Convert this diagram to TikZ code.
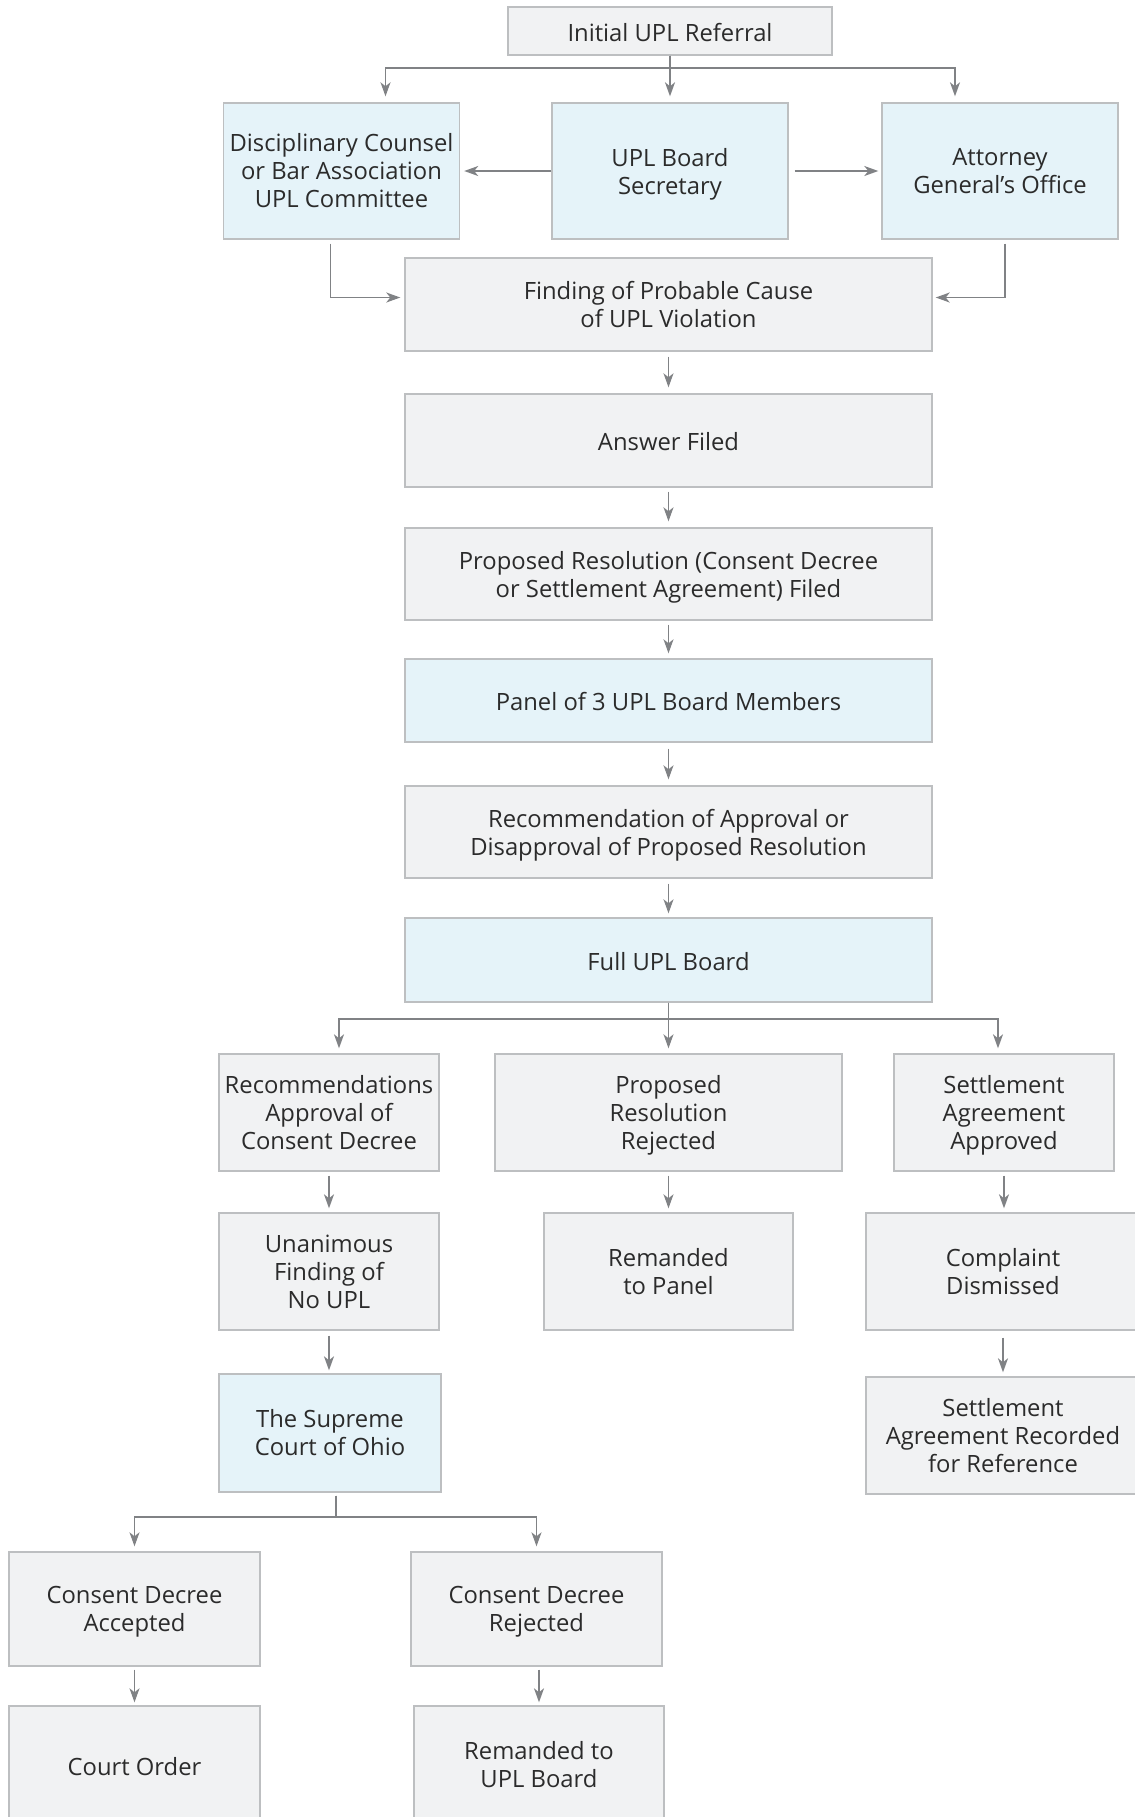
\documentclass[tikz,border=0pt]{standalone}
\usepackage{fontspec}
\setmainfont{Open Sans}
\usetikzlibrary{arrows.meta,calc}
\definecolor{gfill}{HTML}{F1F2F3}
\definecolor{bfill}{HTML}{E5F3F9}
\definecolor{bordc}{HTML}{BDBFC1}
\definecolor{linec}{HTML}{808285}
\definecolor{txtc}{HTML}{2B2B2B}
\newcommand\nodesc[1]{\raisebox{0pt}[\height][0pt]{#1}}
\tikzset{
  box/.style={draw=bordc, line width=0.7pt, rectangle, align=center, inner sep=0pt,
    text=txtc, font=\fontsize{11.9}{14}\selectfont,
    execute at begin node={\rule{0pt}{10.2pt}}},
  gbox/.style={box, fill=gfill},
  bbox/.style={box, fill=bfill},
  conn/.style={draw=linec, line width=0.8pt, -{Stealth[length=7pt,width=5pt,inset=2pt]}},
}
\begin{document}
\begin{tikzpicture}[x={(0.5pt,0pt)},y={(0pt,-0.5pt)}]
\useasboundingbox (0,0) rectangle (1135,1817);
\clip (0,0) rectangle (1135,1817);

% top
\node[gbox, minimum width=162pt, minimum height=24pt] (init) at (670,31) {Initial UPL Referral};
\node[bbox, minimum width=118pt, minimum height=68pt] (disc) at (341.5,171) {Disciplinary Counsel\\or Bar Association\\UPL Committee};
\node[bbox, minimum width=118pt, minimum height=68pt] (sec) at (670,171) {UPL Board\\\nodesc{Secretary}};
\node[bbox, minimum width=118pt, minimum height=68pt] (att) at (1000,171) {Attorney\\General’s Office};

% main column
\node[gbox, minimum width=263.5pt, minimum height=46.5pt] (find) at (668.5,304.5) {Finding of Probable Cause\\of UPL Violation};
\node[gbox, minimum width=263.5pt, minimum height=46.5pt] (ans) at (668.5,440.5) {Answer Filed};
\node[gbox, minimum width=263.5pt, minimum height=46pt] (prop) at (668.5,574) {Proposed Resolution (Consent Decree\\\nodesc{or Settlement Agreement) Filed}};
\node[bbox, minimum width=263.5pt, minimum height=41.5pt] (panel) at (668.5,700.5) {Panel of 3 UPL Board Members};
\node[gbox, minimum width=263.5pt, minimum height=46pt] (rec) at (668.5,832) {Recommendation of Approval or\\\nodesc{Disapproval of Proposed Resolution}};
\node[bbox, minimum width=263.5pt, minimum height=42pt] (full) at (668.5,960) {Full UPL Board};

% three branches
\node[gbox, minimum width=110pt, minimum height=58.5pt] (recs) at (329,1112.5) {Recommendations\\Approval of\\Consent Decree};
\node[gbox, minimum width=173.5pt, minimum height=58.5pt] (prr) at (668.5,1112.5) {Proposed\\Resolution\\\nodesc{Rejected}};
\node[gbox, minimum width=110pt, minimum height=58.5pt] (saa) at (1004,1112.5) {Settlement\\Agreement\\\nodesc{Approved}};

\node[gbox, minimum width=110pt, minimum height=58.5pt] (unan) at (329,1271.5) {Unanimous\\Finding of\\No UPL};
\node[gbox, minimum width=124.5pt, minimum height=58.5pt] (rtp) at (668.5,1271.5) {Remanded\\to Panel};
\node[gbox, minimum width=137pt, minimum height=58.5pt] (comp) at (1003,1271.5) {Complaint\\Dismissed};

\node[bbox, minimum width=111pt, minimum height=59pt] (sup) at (330,1433) {The Supreme\\Court of Ohio};
\node[gbox, minimum width=137pt, minimum height=58.5pt] (sar) at (1003,1435.5) {Settlement\\Agreement Recorded\\for Reference};

% bottom
\node[gbox, minimum width=125.5pt, minimum height=57pt] (cda) at (134.5,1609) {Consent Decree\\\nodesc{Accepted}};
\node[gbox, minimum width=125.5pt, minimum height=57pt] (cdr) at (536.5,1609) {Consent Decree\\\nodesc{Rejected}};
\node[gbox, minimum width=125.5pt, minimum height=59pt] (co) at (134.5,1765) {Court Order};
\node[gbox, minimum width=125pt, minimum height=59pt] (rub) at (539,1765) {Remanded to\\UPL Board};

% connectors top
\draw[conn, shorten >=3pt] (init.south) -- (sec.north);
\draw[conn, shorten >=3pt] (init.south) -- ++(0,12) -| ([xshift=22pt]disc.north);
\draw[conn, shorten >=3pt] (init.south) -- ++(0,12) -| ([xshift=-22.5pt]att.north);
\draw[conn, shorten >=2pt] (sec.west) -- (disc.east);
\draw[conn, shorten <=3pt, shorten >=1.5pt] (sec.east) -- (att.west);
\draw[conn, shorten <=2pt, shorten >=2pt] ([xshift=-5.5pt]disc.south) |- ([yshift=3.5pt]find.west);
\draw[conn, shorten <=2pt, shorten >=1.5pt] ([xshift=2.5pt]att.south) |- ([yshift=3.5pt]find.east);

% main chain
\draw[conn, shorten <=2.5pt, shorten >=3pt] (find) -- (ans);
\draw[conn, shorten <=2pt, shorten >=3pt] (ans) -- (prop);
\draw[conn, shorten <=2pt, shorten >=2.5pt] (prop) -- (panel);
\draw[conn, shorten <=3pt, shorten >=3pt] (panel) -- (rec);
\draw[conn, shorten <=2.5pt, shorten >=2pt] (rec) -- (full);

% branches
\draw[conn, shorten >=2.5pt] (full.south) -- (prr.north);
\draw[conn, shorten >=2.5pt] (full.south) -- ++(0,16) -| ([xshift=5pt]recs.north);
\draw[conn, shorten >=2.5pt] (full.south) -- ++(0,16) -| ([xshift=-3pt]saa.north);

\draw[conn, shorten <=2pt, shorten >=2pt] (recs) -- (unan);
\draw[conn, shorten <=2pt, shorten >=2pt] (prr) -- (rtp);
\draw[conn, shorten <=2pt, shorten >=2pt] (saa.south) -- (saa.south |- comp.north);
\draw[conn, shorten <=2.5pt, shorten >=1.5pt] (unan.south) -- (unan.south |- sup.north);
\draw[conn, shorten <=3.5pt, shorten >=2pt] (comp) -- (sar);

% supreme court split
\draw[conn, shorten <=1.5pt, shorten >=2.5pt] ([xshift=3pt]sup.south) -- ++(0,24) -| (cda.north);
\draw[conn, shorten <=1.5pt, shorten >=2.5pt] ([xshift=3pt]sup.south) -- ++(0,24) -| (cdr.north);

\draw[conn, shorten <=1.5pt, shorten >=1.5pt] (cda) -- (co);
\draw[conn, shorten <=1.5pt, shorten >=1.5pt] (cdr.south -| rub.north) -- (rub.north);
\end{tikzpicture}
\end{document}
